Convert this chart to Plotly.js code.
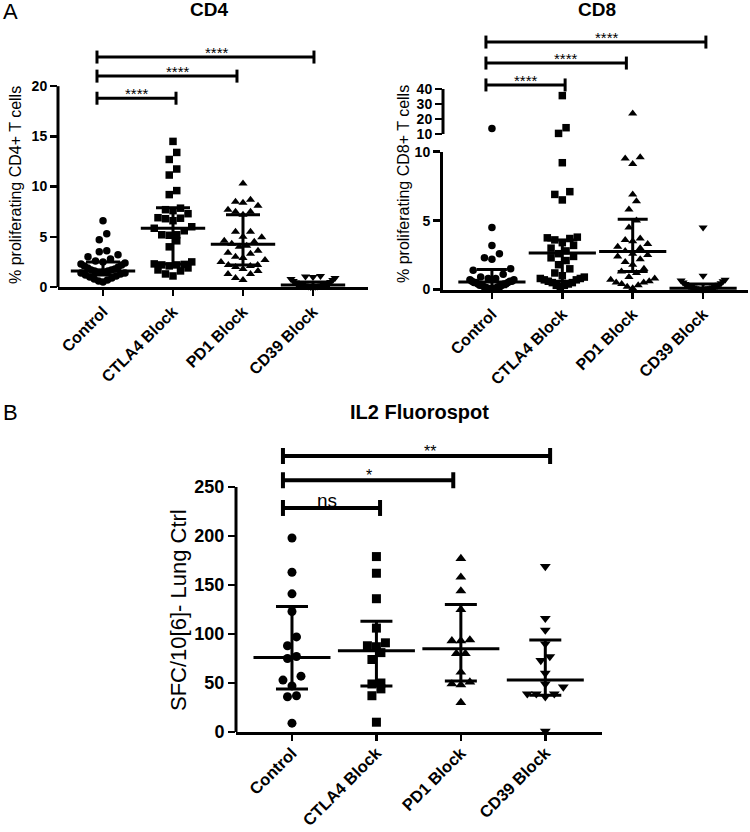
<!DOCTYPE html>
<html><head><meta charset="utf-8">
<script src="https://cdn.plot.ly/plotly-3.0.1.min.js"></script>
<style>html,body{margin:0;padding:0;background:#fff}#chart{width:750px;height:832px}</style>
</head><body><div id="chart"></div>
<script>
// ---------------- DATA ----------------
const categories = ['Control', 'CTLA4 Block', 'PD1 Block', 'CD39 Block'];
const symbols = ['circle', 'square', 'triangle-up', 'triangle-down'];

// Panel A - CD4 (% proliferating CD4+ T cells)
const cd4Control = [6.6, 5.3, 4.7, 3.6, 3.5, 3.2, 3.0, 2.8, 2.6, 2.5, 2.4, 2.3, 2.2, 2.1, 2.0, 1.9, 1.8, 1.7, 1.7, 1.6, 1.6, 1.5, 1.5, 1.5, 1.4, 1.4, 1.3, 1.2, 1.1, 1.0, 0.9, 0.8, 0.7, 0.6, 0.5];
const cd4CTLA4 = [14.5, 13.4, 12.7, 11.75, 11.15, 9.6, 9.2, 7.85, 7.7, 7.6, 7.3, 6.9, 6.85, 6.8, 6.6, 6.0, 5.85, 5.6, 5.2, 5.2, 5.15, 4.6, 4.0, 2.5, 2.3, 2.25, 2.2, 2.2, 2.1, 1.9, 1.7, 1.6, 1.3, 1.1];
const cd4PD1 = [10.3, 8.7, 8.5, 8.4, 8.1, 7.7, 7.5, 7.5, 7.2, 5.5, 5.5, 5.0, 4.95, 4.6, 4.5, 4.3, 4.1, 4.0, 3.6, 3.4, 3.3, 3.0, 2.9, 2.7, 2.5, 2.2, 2.2, 2.1, 2.0, 1.8, 1.6, 1.3, 1.3, 0.9, 0.7];
const cd4CD39 = [1.1, 1.05, 1.0, 0.9, 0.8, 0.7, 0.6, 0.5, 0.45, 0.4, 0.35, 0.3, 0.25, 0.2, 0.2, 0.15, 0.15, 0.1, 0.1, 0.05, 0.05, 0.02, 0.0, 0.0];
const cd4Median = [1.6, 5.85, 4.25, 0.2];
const cd4Q1 = [1.2, 2.3, 2.2, 0.1];
const cd4Q3 = [2.5, 7.9, 7.2, 0.5];

// Panel A - CD8 (% proliferating CD8+ T cells), broken axis at 10
const cd8Control = [13.7, 4.5, 3.2, 2.6, 2.3, 2.2, 1.5, 1.4, 1.1, 0.9, 0.8, 0.8, 0.7, 0.7, 0.6, 0.6, 0.6, 0.5, 0.5, 0.5, 0.4, 0.4, 0.4, 0.3, 0.3, 0.3, 0.2, 0.2, 0.2, 0.15, 0.1, 0.1, 0.1, 0.05, 0.05];
const cd8CTLA4 = [35.6, 14.2, 10.4, 9.2, 7.1, 6.9, 6.5, 3.8, 3.75, 3.7, 3.6, 3.4, 3.2, 3.0, 2.8, 2.6, 2.4, 2.3, 2.1, 1.8, 1.5, 1.2, 1.0, 0.9, 0.8, 0.8, 0.7, 0.7, 0.6, 0.5, 0.5, 0.4, 0.3, 0.3, 0.2];
const cd8PD1 = [23.6, 9.6, 9.5, 9.1, 6.9, 6.4, 5.8, 5.0, 4.5, 3.7, 3.6, 3.5, 3.3, 3.1, 3.0, 2.8, 2.6, 2.5, 2.4, 2.2, 2.0, 1.8, 1.5, 1.3, 1.2, 0.9, 0.8, 0.7, 0.6, 0.5, 0.5, 0.4, 0.3, 0.2, 0.1];
const cd8CD39 = [4.5, 1.0, 0.7, 0.65, 0.6, 0.5, 0.45, 0.4, 0.35, 0.3, 0.3, 0.25, 0.2, 0.2, 0.15, 0.15, 0.1, 0.1, 0.1, 0.05, 0.05, 0.05, 0.02, 0.0, 0.0];
const cd8Median = [0.55, 2.65, 2.75, 0.1];
const cd8Q1 = [0.2, 0.6, 1.3, 0.05];
const cd8Q3 = [1.45, 3.6, 5.1, 0.4];
const cd8BreakAt = 10;

// Panel B - IL2 Fluorospot (SFC/10[6] - Lung Ctrl)
const il2Control = [198, 163, 141, 123, 97, 88, 77, 75, 57, 53, 47, 37, 36, 9];
const il2CTLA4 = [179, 162, 136, 106, 91, 88, 87, 81, 74, 50, 49, 44, 37, 10];
const il2PD1 = [177, 158, 144, 125, 94, 93, 93, 80, 80, 61, 51, 49, 48, 30];
const il2CD39 = [169, 116, 104, 90, 77, 73, 60, 49, 46, 39, 39, 39, 36, 1];
const il2Median = [76, 83, 85, 53];
const il2Q1 = [44, 47, 52, 37.5];
const il2Q3 = [128, 113, 130, 94];

// Significance brackets: [from, to, height, label, label x]
const cd4Sig = [[-0.086, 1.043, 18.8, '****', 0.486], [-0.086, 1.914, 21.0, '****', 1.07], [-0.086, 3.014, 22.9, '****', 1.63]];
const cd8Sig = [[-0.085, 1.04, 42.7, '****', 0.48], [-0.085, 1.91, 57.3, '****', 1.05], [-0.085, 3.04, 71.3, '****', 1.64]];
const il2Sig = [[-0.107, 1.043, 228.6, 'ns', 0.415], [-0.107, 1.91, 257, '*', 0.91], [-0.107, 3.057, 281.6, '**', 1.635]];

// ---------------- LAYOUT GEOMETRY ----------------
const W = 750, H = 832;
const FONT = 'Liberation Sans, Arial, sans-serif';
const ax = {
  x:  {domain: [0.07733, 0.49067], range: [-0.643, 3.786]},
  y:  {domain: [0.65505, 0.94471], range: [0, 24]},
  x2: {domain: [0.59067, 0.99733], range: [-0.695, 3.638]},
  y2: {domain: [0.65204, 0.81767], range: [0, 10]},
  y3: {domain: [0.83894, 0.96514], range: [10, 80]},
  x3: {domain: [0.31467, 0.80227], range: [-0.663, 3.668]},
  y4: {domain: [0.12019, 0.47356], range: [0, 300]}
};
function pxPer(name, size) {
  const a = ax[name];
  return (a.domain[1] - a.domain[0]) * size / (a.range[1] - a.range[0]);
}

// deterministic row-based scatter (GraphPad style): values grouped in rows,
// each row laid out from the centre outwards in ascending order
function swarm(values, pxX, pxY, d, rowH, maxW) {
  const idx = values.map((v, i) => i).sort((a, b) => values[a] - values[b]);
  const out = new Array(values.length);
  let r = 0;
  while (r < idx.length) {
    const start = values[idx[r]];
    let e = r;
    while (e < idx.length && (values[idx[e]] - start) * pxY < rowH) e++;
    const row = idx.slice(r, e);
    const n = row.length;
    const s = n > 1 ? Math.min(d, maxW / (n - 1)) : 0;
    const pos = [];
    for (let j = 0; j < n; j++) pos.push((j - (n - 1) / 2) * s);
    pos.sort((a, b) => (Math.abs(a) - Math.abs(b)) || (a - b));
    row.forEach((id, j) => { out[id] = pos[j] / pxX; });
    r = e;
  }
  return out;
}

const traces = [];
function addGroup(vals, ci, xa, ya, size, rowH, maxW) {
  const offs = swarm(vals, pxPer(xa, W), pxPer(ya, H), size, rowH, maxW);
  traces.push({
    type: 'scatter', mode: 'markers', xaxis: xa, yaxis: ya,
    x: offs.map(o => ci + o), y: vals,
    marker: {symbol: symbols[ci], size: symbols[ci].startsWith('triangle') ? size + 0.5 : size, color: '#000', line: {width: 0}},
    hoverinfo: 'skip', showlegend: false, cliponaxis: false
  });
}
function addSummary(xa, ya, med, q1, q3, w, cap) {
  traces.push({
    type: 'scatter', mode: 'markers', xaxis: xa, yaxis: ya,
    x: [0, 1, 2, 3], y: med,
    marker: {symbol: 'line-ew', size: w, color: '#000', line: {color: '#000', width: 3}},
    error_y: {type: 'data', symmetric: false, array: q3.map((v, i) => v - med[i]), arrayminus: med.map((v, i) => v - q1[i]), color: '#000', thickness: 3, width: cap},
    hoverinfo: 'skip', showlegend: false, cliponaxis: false
  });
}

// CD4
[cd4Control, cd4CTLA4, cd4PD1, cd4CD39].forEach((v, i) => addGroup(v, i, 'x', 'y', 7.5, 10, 44));
addSummary('x', 'y', cd4Median, cd4Q1, cd4Q3, 46, 17);
// CD8 (split at break)
[cd8Control, cd8CTLA4, cd8PD1, cd8CD39].forEach((v, i) => {
  addGroup(v.filter(a => a <= cd8BreakAt), i, 'x2', 'y2', 7.5, 10, 44);
  const hi = v.filter(a => a > cd8BreakAt);
  if (hi.length) addGroup(hi, i, 'x2', 'y3', 7.5, 10, 44);
});
addSummary('x2', 'y2', cd8Median, cd8Q1, cd8Q3, 48, 15);
// IL2
[il2Control, il2CTLA4, il2PD1, il2CD39].forEach((v, i) => addGroup(v, i, 'x3', 'y4', 9, 10, 44));
addSummary('x3', 'y4', il2Median, il2Q1, il2Q3, 55, 16);

// ---------------- AXES ----------------
function xAxis(name, anchor, fs, standoff) {
  return {domain: ax[name].domain, range: ax[name].range, anchor: anchor,
    tickmode: 'array', tickvals: [0, 1, 2, 3], ticktext: categories, tickangle: -45,
    showline: true, linewidth: 3, linecolor: '#000', ticks: 'outside', ticklen: 6, tickwidth: 2.5, tickcolor: '#000',
    ticklabelstandoff: standoff || 0,
    tickfont: {family: FONT, size: fs, weight: 'bold', color: '#000'},
    showgrid: false, zeroline: false, fixedrange: true};
}
function yAxis(name, anchor, tv, fs, showline) {
  return {domain: ax[name].domain, range: ax[name].range, anchor: anchor,
    tickmode: 'array', tickvals: tv, ticks: 'outside', ticklen: 7, tickwidth: 2.5, tickcolor: '#000',
    showline: !!showline, linewidth: 3, linecolor: '#000',
    tickfont: {family: FONT, size: fs, weight: 'bold', color: '#000'},
    showgrid: false, zeroline: false, fixedrange: true};
}

const shapes = [];
function axisLine(xa, ya, y0, y1) {
  shapes.push({type: 'line', xref: 'paper', yref: ya, x0: ax[xa].domain[0], x1: ax[xa].domain[0], y0: y0, y1: y1, line: {color: '#000', width: 3}});
}
axisLine('x', 'y', 0, 20);
axisLine('x2', 'y3', 10, 40);
axisLine('x3', 'y4', 0, 250);

const annotations = [];
function brackets(list, xa, ya, tickH, lw, fs, yshift) {
  list.forEach(b => {
    shapes.push({type: 'line', xref: xa, yref: ya, x0: b[0], x1: b[1], y0: b[2], y1: b[2], line: {color: '#000', width: lw}});
    [b[0], b[1]].forEach(xe => shapes.push({type: 'line', xref: xa, yref: ya, ysizemode: 'pixel', yanchor: b[2], x0: xe, x1: xe, y0: -tickH, y1: tickH, line: {color: '#000', width: lw}}));
    annotations.push({xref: xa, yref: ya, x: b[4], y: b[2], text: b[3], showarrow: false, xanchor: 'center', yanchor: 'bottom', yshift: b[3] === 'ns' ? -5 : yshift, font: {family: FONT, size: b[3] === 'ns' ? 19 : fs, color: '#000'}});
  });
}
brackets(cd4Sig, 'x', 'y', 6.5, 3, 15, -6);
brackets(cd8Sig, 'x2', 'y3', 6.5, 3, 15, -6);
brackets(il2Sig, 'x3', 'y4', 8, 4, 16, -6);

function txt(t, x, y, size, bold, angle) {
  annotations.push({xref: 'paper', yref: 'paper', x: x / W, y: 1 - y / H, text: t, showarrow: false,
    xanchor: 'center', yanchor: 'middle', textangle: angle || 0,
    font: {family: FONT, size: size, color: '#000', weight: bold ? 'bold' : 'normal'}});
}
txt('A', 10, 12, 22, false);
txt('B', 10, 412, 22, false);
txt('CD4', 209, 10, 19, true);
txt('CD8', 597, 10, 19, true);
txt('IL2 Fluorospot', 419, 412, 20, true);
txt('% proliferating CD4+ T cells', 16, 185, 16, false, -90);
txt('% proliferating CD8+ T cells', 403, 184, 16, false, -90);
txt('SFC/10[6]- Lung Ctrl', 178, 610, 22, false, -90);

const layout = {
  width: W, height: H, margin: {l: 0, r: 0, t: 0, b: 0},
  paper_bgcolor: '#fff', plot_bgcolor: 'rgba(0,0,0,0)', showlegend: false,
  xaxis: xAxis('x', 'y', 16),
  yaxis: yAxis('y', 'x', [0, 5, 10, 15, 20], 14),
  xaxis2: xAxis('x2', 'y2', 16),
  yaxis2: yAxis('y2', 'x2', [0, 5, 10], 14, true),
  yaxis3: yAxis('y3', 'x2', [10, 20, 30, 40], 14),
  xaxis3: xAxis('x3', 'y4', 16.5, -4),
  yaxis4: yAxis('y4', 'x3', [0, 50, 100, 150, 200, 250], 18),
  shapes: shapes, annotations: annotations
};
Plotly.newPlot('chart', traces, layout, {staticPlot: true, displayModeBar: false});
</script></body></html>
